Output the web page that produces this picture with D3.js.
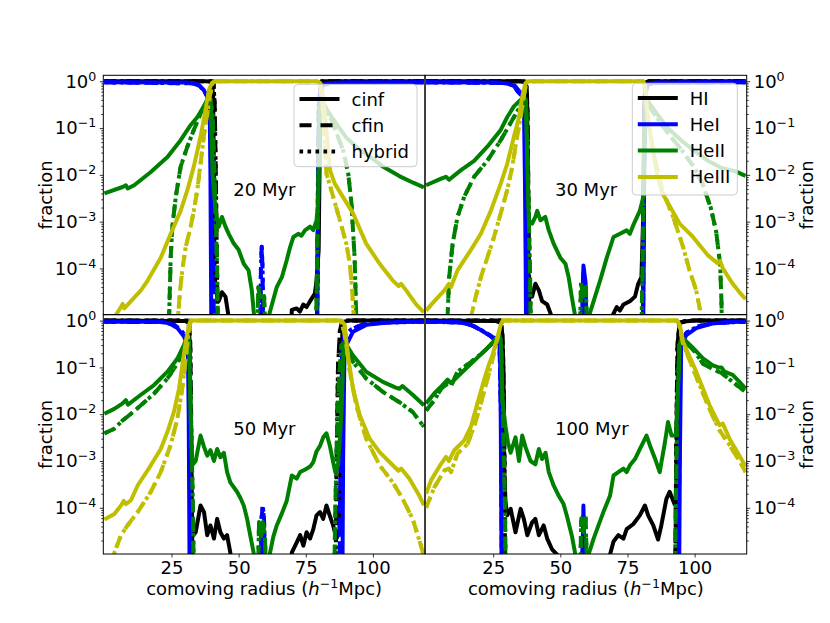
<!DOCTYPE html>
<html>
<head>
<meta charset="utf-8">
<script src="https://cdn.jsdelivr.net/npm/d3@7"></script>
<style>
  body { margin: 0; background: #fff; }
  text { font-family: "DejaVu Sans", sans-serif; }
</style>
</head>
<body>
<svg id="chart" width="830" height="623"></svg>
<script>
// Ionisation fractions along the comoving radius.
// Each series is a list of [radius (h^-1 Mpc), fraction]. Values below the
// plotted range are set to 1e-6 so the trace leaves the frame like in the original.

// ---- 20 Myr ----
var HI_cinf_20 = [[0,1],[38,1],[40,0.97],[40.5,0.5],[40.8,1e-2],[41,1e-4],[41.3,4.7e-5],[42.6,2.0e-5],[43.8,3.1e-5],[45.1,2.5e-5],[46.3,9e-6],[47,1e-6],[69,1e-6],[69.8,1.3e-5],[71.6,1.4e-5],[72.8,1.2e-5],[74.1,1.7e-5],[75.3,1.5e-5],[76.6,2.0e-5],[78.4,2.9e-5],[79,5.5e-5],[79.8,2.5e-4],[80.3,0.1],[80.6,0.9],[81,1],[119,1]];
var HI_cfin_20 = [[0,1],[40.6,1],[41.1,0.3],[41.5,1e-2],[41.9,1e-4],[42.3,1e-6],[79,1e-6],[79.4,1e-4],[79.8,1e-2],[80.3,0.5],[80.8,1],[119,1]];
var HeI_cinf_20 = [[0,0.95],[30,0.94],[33,0.92],[35,0.85],[37,0.65],[38.3,0.47],[39.2,0.3],[39.5,1e-2],[39.7,1e-4],[39.9,1e-6],[57.6,1e-6],[58.6,1.6e-5],[59.6,1e-6],[79.2,1e-6],[79.4,1e-4],[79.7,1e-2],[80.1,0.5],[81.5,0.85],[84,0.92],[90,0.94],[119,0.95]];
var HeI_cfin_20 = [[0,0.95],[33,0.9],[35.5,0.8],[37.5,0.58],[39,0.4],[40,0.25],[40.3,1e-2],[40.6,1e-4],[40.9,1e-6],[57.9,1e-6],[58.3,1e-4],[58.6,2.9e-4],[58.9,1e-4],[59.3,1e-6],[79.1,1e-6],[79.4,1e-3],[79.8,0.3],[81,0.8],[84,0.92],[119,0.95]];
var HeII_cinf_20 = [[0,4.0e-3],[6.8,5.5e-3],[8,6.0e-3],[8.7,5.1e-3],[11.1,6.0e-3],[17.3,1.15e-2],[23.5,2.4e-2],[28.4,5.5e-2],[32.1,0.115],[34.6,0.17],[37,0.29],[38.9,0.47],[39.6,0.4],[40.3,1e-2],[41.4,1.7e-3],[42.6,7.8e-4],[43.8,1.26e-3],[45.1,7.8e-4],[46.3,5.5e-4],[48.2,3.4e-4],[50,2.5e-4],[51.9,1.26e-4],[53.7,9.1e-5],[54.9,3.4e-5],[55.8,9e-6],[56.5,1e-6],[60.5,1e-6],[61.1,9e-6],[62.4,1.7e-5],[64.2,4.0e-5],[66.1,6.5e-5],[67.9,1.5e-4],[69.2,2.9e-4],[70.4,4.7e-4],[72.2,5.5e-4],[73.4,5.0e-4],[74.7,6.5e-4],[76.6,7.8e-4],[77.8,6.6e-4],[79,1.07e-3],[79.6,2.4e-3],[80.2,0.1],[80.6,0.45],[82,0.3],[85,0.16],[90,6.3e-2],[95,3.5e-2],[100,2.2e-2],[103.7,1.5e-2],[110,9.3e-3],[115,6.8e-3],[119,5.4e-3]];
var HeII_cfin_20 = [[0,1e-6],[23.8,1e-6],[24.1,9e-6],[24.7,1.7e-4],[25.3,7.8e-4],[26.6,3.4e-3],[28.4,1.5e-2],[30.9,4.0e-2],[33.3,9.1e-2],[35.8,0.2],[38.3,0.4],[39.3,0.45],[40.3,0.2],[41,1e-2],[41.5,1e-3],[42,1e-4],[42.5,1e-6],[56.8,1e-6],[57.3,4e-5],[58,2.2e-5],[58.6,3e-5],[59.5,2.5e-5],[60.3,1e-6],[78.6,1e-6],[79.2,1e-4],[79.7,1e-2],[80.3,0.35],[81,0.4],[85,0.13],[89,3.2e-2],[90.8,1.07e-2],[92,2.5e-3],[92.6,6.5e-4],[93.2,1.7e-4],[93.8,9e-6],[94.1,1e-6],[119,1e-6]];
var HeIII_cinf_20 = [[0,1e-6],[3.8,1e-6],[4.3,1.02e-5],[6.2,1.5e-5],[6.8,1.75e-5],[7.4,1.4e-5],[9.9,2.0e-5],[13.6,3.4e-5],[16.1,5.5e-5],[21,1.7e-4],[24.7,5.5e-4],[28.4,1.7e-3],[30.9,4.7e-3],[33.3,1.5e-2],[35.8,6.5e-2],[37.7,0.25],[38.9,0.65],[40.1,0.92],[41,1],[79.5,1],[80.5,0.9],[81.5,0.45],[82.8,8e-2],[84,1.26e-2],[85.8,6.5e-3],[92.6,1.5e-3],[97.5,3.4e-4],[102.5,1.26e-4],[107.4,5.5e-5],[109.6,4.2e-5],[110.5,4.7e-5],[112.4,3.4e-5],[116.1,1.7e-5],[119,1.15e-5]];
var HeIII_cfin_20 = [[0,1e-6],[27,1e-6],[27.4,9e-6],[28.2,3.4e-5],[29,9.1e-5],[30.3,2.9e-4],[32.1,7.6e-4],[33.3,1.7e-3],[34.6,4.7e-3],[35.8,1.7e-2],[37,6.5e-2],[38.3,0.2],[39.3,0.5],[40.3,0.9],[41,1],[79.5,1],[80.5,0.8],[81.5,0.2],[82.7,1.07e-2],[85.2,3.4e-3],[87.7,1.07e-3],[90.1,3.4e-4],[91.4,1.26e-4],[92.2,4.0e-5],[92.9,9e-6],[93.2,1e-6],[119,1e-6]];

// ---- 30 Myr ----
var HI_cinf_30 = [[0,1],[35,1],[37,0.95],[37.6,0.5],[37.9,1e-2],[38.1,1e-4],[38.3,4.7e-5],[39.5,2.5e-5],[40.7,4.7e-5],[42,3.4e-5],[43.2,2.0e-5],[45.1,1.7e-5],[46.9,9e-6],[47.5,1e-6],[68.5,1e-6],[69.1,9e-6],[71,1.5e-5],[72.2,1.26e-5],[73.5,1.7e-5],[75.9,2.0e-5],[77.8,2.5e-5],[79,4.7e-5],[80.2,6.5e-5],[80.8,1e-3],[81.3,0.3],[81.8,0.95],[83,1],[119,1]];
var HI_cfin_30 = [[0,1],[37.3,1],[37.8,0.2],[38.2,1e-3],[38.6,1e-6],[80.6,1e-6],[81,1e-3],[81.5,0.5],[82,1],[119,1]];
var HeI_cinf_30 = [[0,0.95],[27,0.94],[30,0.9],[32.7,0.8],[34.1,0.6],[35.5,0.5],[36.4,0.4],[36.8,1e-2],[37.1,1e-4],[37.3,1e-6],[57.5,1e-6],[58.1,1e-5],[58.6,1.15e-4],[59.4,5e-5],[60,1e-6],[80.8,1e-6],[81.1,1e-3],[81.5,0.5],[82.5,0.85],[85,0.93],[119,0.95]];
var HeI_cfin_30 = [[0,0.95],[30,0.92],[33,0.8],[35.5,0.55],[36.8,0.4],[37.3,1e-2],[37.6,1e-4],[37.9,1e-6],[57.8,1e-6],[58.6,8e-5],[59.3,1e-6],[80.7,1e-6],[81,1e-3],[81.4,0.5],[82.5,0.85],[85,0.93],[119,0.95]];
var HeII_cinf_30 = [[0,6.0e-3],[5.6,8.3e-3],[7.4,9.1e-3],[8.6,7.9e-3],[13,1.26e-2],[17.9,2.0e-2],[22.8,4.0e-2],[27.8,9.1e-2],[30.2,0.17],[32.7,0.29],[35.2,0.4],[36.4,0.47],[37.2,0.4],[37.8,1e-2],[38.3,1.07e-3],[39.5,9.1e-4],[40.7,1.26e-3],[41.4,1.7e-3],[42.6,1.07e-3],[44.4,1.26e-3],[45.7,6.5e-4],[47.5,3.4e-4],[50,1.7e-4],[51.9,1.26e-4],[53.1,6.5e-5],[54.3,2.4e-5],[55.6,9e-6],[56.2,1e-6],[60,1e-6],[60.5,9e-6],[62.4,2.0e-5],[64.8,5.5e-5],[67.3,1.7e-4],[69.8,4.7e-4],[72.2,5.5e-4],[74.7,6.5e-4],[75.9,5.5e-4],[77.2,8.5e-4],[79.6,1.7e-3],[80.8,3.2e-3],[81.3,0.1],[81.8,0.45],[83,0.35],[86,0.2],[90,0.1],[95,5.5e-2],[100,3.2e-2],[105,2.0e-2],[110,1.4e-2],[115,1.2e-2],[119,9.5e-3]];
var HeII_cfin_30 = [[0,1e-6],[7.7,1e-6],[8,9e-6],[8.6,6.5e-5],[9.9,3.4e-4],[11.7,1.26e-3],[14.2,3.4e-3],[17.9,9.1e-3],[22.8,2.0e-2],[27.8,5.5e-2],[32.7,0.17],[35.2,0.3],[36.5,0.4],[37.3,0.3],[37.9,1e-2],[38.3,1e-3],[38.7,1e-4],[39.2,1e-6],[57,1e-6],[57.7,5e-5],[58.6,2.5e-5],[59.5,4e-5],[60.3,1e-6],[80,1e-6],[80.6,1e-4],[81.1,1e-2],[81.6,0.4],[83,0.3],[85,0.2],[90,7.9e-2],[95,3.5e-2],[100,1.4e-2],[103,6.3e-3],[106,2.0e-3],[108,6.3e-4],[109.5,1.26e-4],[110,2e-5],[110.3,1e-6],[119,1e-6]];
var HeIII_cinf_30 = [[0,1.26e-5],[3.1,2.0e-5],[6.8,3.4e-5],[8.5,4.7e-5],[9.3,4.0e-5],[11.7,9.1e-5],[16.7,2.5e-4],[20.4,5.5e-4],[24.1,1.7e-3],[27.8,6.5e-3],[30.2,1.7e-2],[32.7,6.5e-2],[34.6,0.17],[35.8,0.47],[37,0.91],[37.8,1],[80.8,1],[81.6,0.8],[82.5,0.2],[84,5e-2],[86,1.0e-2],[88,4.0e-3],[90.1,2.5e-3],[94.4,9.1e-4],[99,5.0e-4],[105,1.9e-4],[108.5,1.3e-4],[109.5,1.45e-4],[110.5,1.0e-4],[114.2,4.7e-5],[116.5,3.2e-5],[119,2.2e-5]];
var HeIII_cfin_30 = [[0,1e-6],[16.3,1e-6],[16.7,9e-6],[18.5,2.5e-5],[20.4,6.5e-5],[22.8,1.7e-4],[25.3,4.7e-4],[27.8,1.5e-3],[30.2,4.7e-3],[32.1,1.5e-2],[33.9,6.5e-2],[35.2,0.17],[36.4,0.47],[37.3,0.9],[38,1],[80.8,1],[81.6,0.7],[82.5,0.15],[85,2.5e-2],[88,4.7e-3],[92,1.26e-3],[95.7,2.9e-4],[98.1,9.1e-5],[100.6,3.4e-5],[102,1.3e-5],[102.5,1e-6],[119,1e-6]];

// ---- 50 Myr ----
var HI_cinf_50 = [[0,1],[30,0.98],[31.4,0.9],[31.8,0.3],[32,1e-2],[32.1,2.2e-5],[34,3.0e-5],[35.8,1.12e-4],[37.1,8.1e-5],[38.3,2.6e-5],[39.5,4.2e-5],[40.8,2.2e-5],[42,5.8e-5],[43.2,3.0e-5],[44.5,2.2e-5],[45.7,2.6e-5],[46.9,1.1e-5],[47.6,1e-6],[69,1e-6],[69.8,1.1e-5],[71.6,1.8e-5],[72.9,2.6e-5],[74.1,1.55e-5],[75.3,3.0e-5],[76.6,2.2e-5],[77.8,3.5e-5],[79,6.9e-5],[80.3,8.1e-5],[81.5,5.8e-5],[82.7,1.12e-4],[83.9,6.9e-5],[85.2,4.2e-5],[86.4,2.2e-5],[87.5,3e-5],[88.2,1e-3],[88.6,0.5],[89.2,0.95],[91,1],[119,1]];
var HI_cfin_50 = [[0,1],[31.5,1],[32,0.3],[32.3,1e-2],[32.6,1e-4],[33,1e-6],[86,1e-6],[86.5,1e-3],[87,0.1],[87.7,0.6],[88.5,0.95],[90,1],[119,1]];
var HeI_cinf_50 = [[0,0.95],[20,0.94],[24,0.89],[27.2,0.69],[29.6,0.46],[31.1,0.3],[31.4,1e-2],[31.6,1e-4],[31.8,1e-6],[57.8,1e-6],[58.5,3e-5],[59.2,1e-6],[88.6,1e-6],[88.9,1e-3],[89.4,0.2],[90.1,0.3],[92.6,0.58],[97.5,0.81],[103.7,0.89],[110,0.93],[119,0.95]];
var HeI_cfin_50 = [[0,0.95],[22,0.93],[26,0.82],[29,0.58],[30.8,0.4],[31.5,0.2],[31.8,1e-2],[32,1e-4],[32.2,1e-6],[58,1e-6],[58.4,5e-5],[59,1.12e-4],[59.5,5e-5],[59.9,1e-6],[87.5,1e-6],[88,1e-3],[88.6,0.3],[89.5,0.5],[92,0.65],[96,0.82],[103,0.9],[119,0.95]];
var HeII_cinf_50 = [[0,1.02e-2],[3.7,1.3e-2],[6.8,1.7e-2],[8,2.0e-2],[8.8,1.6e-2],[13.6,2.6e-2],[18.5,4.2e-2],[23.5,8.1e-2],[27.2,0.155],[29.6,0.3],[31.1,0.49],[31.6,0.3],[32.1,1e-2],[32.7,8.1e-4],[34,1.0e-3],[35.8,3.5e-3],[37.1,2.0e-3],[38.3,1.3e-3],[39.5,1.7e-3],[40.8,1.0e-3],[42,1.8e-3],[43.2,1.2e-3],[44.5,1.5e-3],[45.7,5.8e-4],[46.9,3.5e-4],[49.4,2.2e-4],[50.7,1.6e-4],[51.9,1.12e-4],[53.1,6.0e-5],[54.3,2.6e-5],[55.6,1.1e-5],[56.2,1e-6],[61,1e-6],[61.7,1.1e-5],[62.9,2.4e-5],[64.2,4.2e-5],[66.1,7.6e-5],[67.9,1.4e-4],[69.8,4.9e-4],[71.6,4.2e-4],[72.9,5.8e-4],[74.8,6.6e-4],[76.6,7.6e-4],[77.8,9.5e-4],[79,1.6e-3],[80.3,2.1e-3],[81.5,3.2e-3],[82.7,3.9e-3],[83.9,2.2e-3],[85.2,9.5e-4],[86,5.8e-4],[87,8e-4],[88.3,1e-2],[89,0.2],[89.5,0.35],[92.6,0.18],[97.5,8.1e-2],[103.7,4.9e-2],[108.5,3.7e-2],[109.9,3.5e-2],[111,4.0e-2],[114.8,2.6e-2],[119,1.55e-2]];
var HeII_cfin_50 = [[0,3.9e-3],[3.7,4.9e-3],[6.8,7.4e-3],[8.2,8.5e-3],[9.9,1.02e-2],[13.6,1.55e-2],[18.5,2.75e-2],[23.5,5.8e-2],[27.2,0.12],[29.6,0.26],[31.1,0.46],[31.7,0.3],[32.2,1e-2],[32.6,1e-3],[33,1e-4],[33.4,1e-6],[57,1e-6],[57.6,5e-5],[58.4,2.5e-5],[59,5e-5],[59.8,2.5e-5],[60.5,1e-6],[85.5,1e-6],[86,1e-4],[86.6,3e-3],[87.3,0.05],[88.3,0.3],[89.5,0.35],[92.6,0.13],[97.5,5.8e-2],[103.7,3.0e-2],[109.9,1.8e-2],[114.8,1.12e-2],[119,5.4e-3]];
var HeIII_cinf_50 = [[0,5.6e-5],[3.7,7.4e-5],[6.2,1.12e-4],[7.2,1.4e-4],[8,1.2e-4],[9.9,1.45e-4],[12.4,3.0e-4],[17.3,8.1e-4],[21,1.8e-3],[23.5,4.2e-3],[25.9,1.12e-2],[27.8,3.5e-2],[29,0.11],[30.3,0.35],[31.5,0.81],[32.2,1],[88.4,1],[89.5,0.81],[90.7,0.18],[92.6,3.5e-2],[95.1,9.5e-3],[98.8,3.0e-3],[102.5,1.55e-3],[107.4,8.1e-4],[109.5,6.2e-4],[110.5,6.9e-4],[113.6,4.2e-4],[117.3,1.8e-4],[119,1.12e-4]];
var HeIII_cfin_50 = [[0,1e-6],[3.4,1e-6],[3.7,1.1e-5],[6.2,2.6e-5],[8.6,4.2e-5],[12.4,8.1e-5],[17.3,2.2e-4],[21,5.8e-4],[24.7,2.2e-3],[27.2,8.1e-3],[29,3.5e-2],[30.3,0.155],[31.1,0.42],[31.8,0.85],[32.5,1],[88,1],[89.2,0.6],[90.1,0.3],[91.4,8.1e-2],[93.8,1.55e-2],[97.5,3.0e-3],[102.5,8.1e-4],[107.4,3.5e-4],[111.1,1.55e-4],[114.8,5.8e-5],[117.9,1.55e-5],[118.8,1e-5],[119,8e-6]];

// ---- 100 Myr ----
var HI_cinf_100 = [[0,1],[26,0.98],[27.8,0.9],[28.4,0.5],[28.8,0.1],[29,1e-2],[29.1,6.3e-4],[29.6,1.3e-4],[30.2,6.9e-5],[31.5,9.5e-5],[33.3,3.0e-5],[35.2,9.5e-5],[36.4,5.8e-5],[37.7,2.6e-5],[39.5,4.9e-5],[40.7,5.8e-5],[42,2.6e-5],[43.8,4.2e-5],[45.1,2.2e-5],[46.9,1.3e-5],[48.8,1.0e-5],[49.5,1e-6],[67.8,1e-6],[68.5,1e-5],[69.8,1.9e-5],[71.6,2.6e-5],[73.5,2.2e-5],[74.7,3.5e-5],[77.2,4.5e-5],[79.6,6.9e-5],[81.5,1.12e-4],[82.7,6.9e-5],[84.6,4.2e-5],[86.4,2.1e-5],[87.6,4.2e-5],[89.5,1.55e-4],[90.7,2.2e-4],[92.5,1.2e-4],[93.2,1.4e-4],[93.6,1e-2],[93.9,0.5],[94.5,0.9],[97,0.97],[100,1],[119,1]];
var HI_cfin_100 = [[0,1],[28,1],[28.6,0.3],[29,1e-2],[29.2,1e-3],[29.5,1e-6],[92.8,1e-6],[93.1,1e-3],[93.6,0.3],[94.5,0.9],[97,1],[119,1]];
var HeI_cinf_100 = [[0,0.95],[12,0.93],[16.7,0.81],[20.4,0.63],[24.1,0.46],[26.5,0.35],[27.5,0.3],[27.8,1e-2],[28,1e-4],[28.2,1e-6],[58,1e-6],[58.6,1.12e-4],[59.2,1e-6],[94.2,1e-6],[94.5,1e-3],[95,0.3],[96.9,0.49],[100.6,0.69],[106.8,0.87],[112,0.93],[119,0.95]];
var HeI_cfin_100 = [[0,0.95],[14,0.9],[18,0.75],[22,0.56],[25.5,0.42],[27.3,0.35],[27.9,1e-2],[28.1,1e-4],[28.3,1e-6],[57.8,1e-6],[58.6,7e-5],[59.3,1e-6],[94,1e-6],[94.3,1e-3],[94.8,0.35],[97,0.55],[101,0.75],[107,0.88],[119,0.95]];
var HeII_cinf_100 = [[0,1.7e-2],[1.9,2.3e-2],[3.1,2.8e-2],[5.6,3.9e-2],[7.4,5.0e-2],[8,5.5e-2],[9.3,4.6e-2],[12.9,7.4e-2],[16.7,0.12],[21.6,0.22],[25.3,0.37],[27.2,0.5],[27.8,0.4],[28.4,2.0e-2],[29.6,5.4e-3],[30.5,2.5e-3],[31.5,1.5e-3],[33.3,3.2e-3],[34.6,1.0e-3],[35.8,3.5e-3],[37,2.0e-3],[38.9,1.0e-3],[40.7,8.5e-4],[42,1.8e-3],[43.2,1.1e-3],[44.5,1.5e-3],[45.7,5.8e-4],[47.5,3.0e-4],[49.4,1.8e-4],[51.2,1.2e-4],[52.5,6.5e-5],[54.3,2.5e-5],[55.6,1.0e-5],[56.2,1e-6],[59.8,1e-6],[60.5,1.0e-5],[62.4,2.2e-5],[64.2,4.2e-5],[66.1,8.3e-5],[68.5,1.8e-4],[69.8,4.9e-4],[71.6,5.8e-4],[73.5,6.9e-4],[74.7,5.8e-4],[75.9,8.1e-4],[77.8,1.1e-3],[79.6,1.8e-3],[82.1,3.5e-3],[83.3,2.2e-3],[85.2,1.15e-3],[87,5.8e-4],[88.9,2.4e-3],[90.1,6.8e-3],[91.4,3.5e-3],[93,3.5e-3],[93.8,3e-2],[94.4,0.3],[95.2,0.45],[95.7,0.42],[99.4,0.26],[103.1,0.155],[106.8,0.11],[108.9,0.1],[110,0.1],[111.1,8.1e-2],[114.2,6.9e-2],[116.7,4.9e-2],[119,3.5e-2]];
var HeII_cfin_100 = [[0,1.2e-2],[3.1,2.0e-2],[5.6,3.5e-2],[8,4.5e-2],[9.3,4.0e-2],[11.7,8.1e-2],[16.7,0.13],[21.6,0.22],[25.3,0.35],[27.2,0.49],[28,0.3],[28.6,1e-2],[29,1e-3],[29.4,1e-4],[29.8,1e-6],[57.2,1e-6],[57.8,6e-5],[58.6,3e-5],[59.4,7e-5],[60.2,1e-6],[92.5,1e-6],[93,1e-4],[93.5,1e-2],[94.3,0.3],[95.5,0.4],[100,0.22],[103.1,0.12],[107,9e-2],[110,7.6e-2],[114.2,4.9e-2],[119,3.0e-2]];
var HeIII_cinf_100 = [[0,2.0e-4],[1.9,3.9e-4],[5.6,8.7e-4],[7.4,1.23e-3],[8.5,1.0e-3],[10.5,1.7e-3],[14.2,2.75e-3],[16.7,5.4e-3],[19.1,1.7e-2],[21.6,5.4e-2],[23.5,0.12],[24.7,0.18],[26.5,0.42],[27.8,0.81],[28.6,1],[93.5,1],[94.5,0.8],[95.7,0.35],[100.6,8.1e-2],[105.6,1.55e-2],[109.3,5.8e-3],[110.5,6.3e-3],[113,3.0e-3],[116.7,1.3e-3],[119,7.6e-4]];
var HeIII_cfin_100 = [[0,1.0e-4],[3.1,2.75e-4],[6.8,6.3e-4],[8.5,6.9e-4],[9.3,5.8e-4],[11.7,1.45e-3],[15.4,2.3e-3],[17.9,5.4e-3],[20.4,1.7e-2],[22.8,5.4e-2],[24.7,0.145],[26.5,0.4],[27.8,0.8],[28.6,1],[93.5,1],[94.5,0.7],[95.7,0.32],[100.6,6.3e-2],[105.6,1.26e-2],[109.3,4.5e-3],[113,2.2e-3],[116.7,1.0e-3],[119,5.8e-4]];

// Labels and ticks
var timeLabels = ["20 Myr", "30 Myr", "50 Myr", "100 Myr"];
var speciesNames = ["HI", "HeI", "HeII", "HeIII"];
var variantNames = ["cinf", "cfin", "hybrid"];
var xTickValues = [25, 50, 75, 100];
var yTickValues = [1, 1e-1, 1e-2, 1e-3, 1e-4];

// Styles
var speciesColor = {HI: "#000000", HeI: "#0000ff", HeII: "#008000", HeIII: "#bfbf00"};
var variantDash = {cinf: null, cfin: "12,9", hybrid: "3.6,4.4"};
var lw = 4;

// The hybrid runs lie on top of the cfin runs everywhere in the figure,
// so both line styles are drawn from the cfin readings.
var panels = [
  {label: timeLabels[0], HI: [HI_cinf_20, HI_cfin_20], HeI: [HeI_cinf_20, HeI_cfin_20], HeII: [HeII_cinf_20, HeII_cfin_20], HeIII: [HeIII_cinf_20, HeIII_cfin_20]},
  {label: timeLabels[1], HI: [HI_cinf_30, HI_cfin_30], HeI: [HeI_cinf_30, HeI_cfin_30], HeII: [HeII_cinf_30, HeII_cfin_30], HeIII: [HeIII_cinf_30, HeIII_cfin_30]},
  {label: timeLabels[2], HI: [HI_cinf_50, HI_cfin_50], HeI: [HeI_cinf_50, HeI_cfin_50], HeII: [HeII_cinf_50, HeII_cfin_50], HeIII: [HeIII_cinf_50, HeIII_cfin_50]},
  {label: timeLabels[3], HI: [HI_cinf_100, HI_cfin_100], HeI: [HeI_cinf_100, HeI_cfin_100], HeII: [HeII_cinf_100, HeII_cfin_100], HeIII: [HeIII_cinf_100, HeIII_cfin_100]}
];

// Layout of the 2x2 grid (pixels)
var colX = [[103.3, 425], [425, 746.7]];
var rowY = [[75.3, 314.65], [314.65, 554]];
var fontSize = 18;

var svg = d3.select("#chart");

function powLabel(sel) {
  sel.each(function(v) {
    var k = Math.round(Math.log10(v));
    var t = d3.select(this).text(null);
    t.append("tspan").text("10");
    t.append("tspan").attr("dy", -7).attr("font-size", 12.6).text(k === 0 ? "0" : "\u2212" + (-k));
  });
}

function minorTicks(y) {
  var d = y.domain(), out = [];
  for (var k = -6; k <= 0; k++) {
    for (var m = 2; m <= 9; m++) {
      var v = m * Math.pow(10, k);
      if (v >= d[0] && v <= d[1]) out.push(v);
    }
  }
  return out;
}

panels.forEach(function(p, i) {
  var col = i % 2, row = Math.floor(i / 2);
  var x = d3.scaleLinear().domain([-0.4, 119.4]).range(colX[col]);
  var y = d3.scaleLog().domain([1.03e-5, 1.34]).range([rowY[row][1], rowY[row][0]]);
  var w = colX[col][1] - colX[col][0], h = rowY[row][1] - rowY[row][0];

  var g = svg.append("g");
  svg.append("clipPath").attr("id", "clip" + i)
    .append("rect").attr("x", colX[col][0]).attr("y", rowY[row][0]).attr("width", w).attr("height", h);

  var line = d3.line().x(function(d) { return x(d[0]); }).y(function(d) { return y(d[1]); });
  var plot = g.append("g").attr("clip-path", "url(#clip" + i + ")");

  speciesNames.forEach(function(sp) {
    variantNames.forEach(function(v, vi) {
      var data = vi === 0 ? p[sp][0] : p[sp][1];
      plot.append("path")
        .datum(data)
        .attr("d", line)
        .attr("fill", "none")
        .attr("stroke", speciesColor[sp])
        .attr("stroke-width", lw)
        .attr("stroke-linejoin", "round")
        .attr("stroke-dasharray", variantDash[v]);
    });
  });

  // frame
  g.append("rect")
    .attr("x", colX[col][0]).attr("y", rowY[row][0]).attr("width", w).attr("height", h)
    .attr("fill", "none").attr("stroke", "#000").attr("stroke-width", 1);

  // y axis (left column on the left, right column on the right)
  var yAxisX = col === 0 ? colX[col][0] : colX[col][1];
  var mk = col === 0 ? d3.axisLeft : d3.axisRight;
  var yMinor = g.append("g").attr("transform", "translate(" + yAxisX + ",0)")
    .call(mk(y).tickValues(minorTicks(y)).tickSize(2).tickFormat(""));
  var yMajor = g.append("g").attr("transform", "translate(" + yAxisX + ",0)")
    .call(mk(y).tickValues(yTickValues).tickSize(3.5).tickPadding(3.5));
  [yMinor, yMajor].forEach(function(a) {
    a.select(".domain").remove();
    a.selectAll("line").attr("stroke", "#000").attr("stroke-width", 0.8);
  });
  yMajor.selectAll("text")
    .attr("font-family", "DejaVu Sans").attr("font-size", fontSize).attr("fill", "#000")
    .call(powLabel);

  var labX = col === 0 ? 51.5 : 813;
  g.append("text")
    .attr("transform", "translate(" + labX + "," + ((rowY[row][0] + rowY[row][1]) / 2) + ") rotate(-90)")
    .attr("text-anchor", "middle").attr("font-size", fontSize).text("fraction");

  // x axis on the bottom row only
  if (row === 1) {
    var xa = g.append("g").attr("transform", "translate(0," + rowY[row][1] + ")")
      .call(d3.axisBottom(x).tickValues(xTickValues).tickSize(3.5).tickPadding(3.5));
    xa.select(".domain").remove();
    xa.selectAll("line").attr("stroke", "#000").attr("stroke-width", 0.8);
    xa.selectAll("text").attr("font-family", "DejaVu Sans").attr("font-size", fontSize).attr("fill", "#000");

    var xl = g.append("text")
      .attr("x", (colX[col][0] + colX[col][1]) / 2).attr("y", 595)
      .attr("text-anchor", "middle").attr("font-size", fontSize);
    xl.append("tspan").text("comoving radius (");
    xl.append("tspan").attr("font-style", "italic").text("h");
    xl.append("tspan").attr("dy", -7).attr("font-size", 12.6).text("\u22121");
    xl.append("tspan").attr("dy", 7).text("Mpc)");
  }

  // time label
  g.append("text")
    .attr("x", x(48)).attr("y", y(3.6e-3))
    .attr("font-size", fontSize).text(p.label);
});

// Legends
function legend(left, top, width, height, entries) {
  var lg = svg.append("g");
  lg.append("rect").attr("x", left).attr("y", top).attr("width", width).attr("height", height)
    .attr("rx", 4).attr("fill", "#fff").attr("fill-opacity", 0.8)
    .attr("stroke", "#cccccc").attr("stroke-width", 1);
  entries.forEach(function(e, k) {
    var cy = top + 14.7 + k * 26.3;
    lg.append("line")
      .attr("x1", left + 5.5).attr("x2", left + 45.5).attr("y1", cy).attr("y2", cy)
      .attr("stroke", e.color).attr("stroke-width", lw).attr("stroke-dasharray", e.dash);
    lg.append("text").attr("x", left + 57.5).attr("y", cy + 6.5)
      .attr("font-size", fontSize).text(e.name);
  });
}

legend(294, 84.3, 123, 82.4, variantNames.map(function(v) {
  return {name: v, color: "#000", dash: variantDash[v]};
}));
legend(632.3, 83.3, 105, 111.7, speciesNames.map(function(s) {
  return {name: s, color: speciesColor[s], dash: null};
}));
</script>
</body>
</html>
